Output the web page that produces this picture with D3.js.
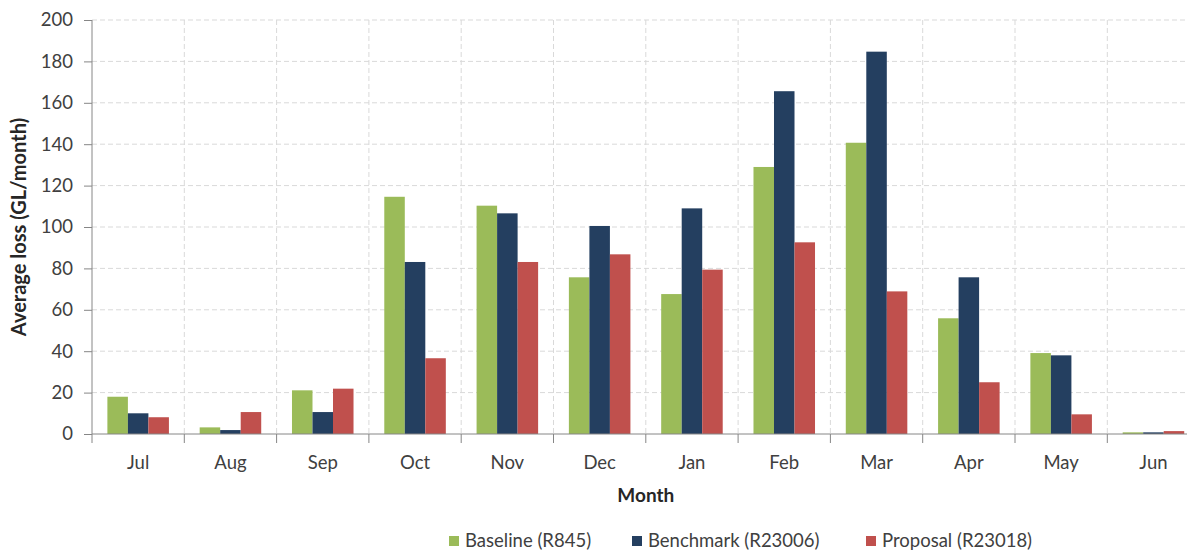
<!DOCTYPE html>
<html>
<head>
<meta charset="utf-8">
<script src="https://cdn.jsdelivr.net/npm/d3@7"></script>
<style>
  body { margin: 0; background: #fff; }
  svg { display: block; font-family: Lato, "Open Sans", sans-serif; }
</style>
</head>
<body>
<svg width="1187" height="551"></svg>
<script>
var months = ['Jul', 'Aug', 'Sep', 'Oct', 'Nov', 'Dec', 'Jan', 'Feb', 'Mar', 'Apr', 'May', 'Jun'];
var seriesNames = ['Baseline (R845)', 'Benchmark (R23006)', 'Proposal (R23018)'];
var baseline = [18.0, 3.2, 21.1, 114.6, 110.3, 75.7, 67.6, 129.0, 140.7, 55.9, 39.1, 0.8];
var benchmark = [10.0, 1.9, 10.6, 83.1, 106.6, 100.5, 109.0, 165.6, 184.7, 75.7, 38.0, 0.8];
var proposal = [8.1, 10.6, 21.9, 36.6, 83.1, 86.8, 79.4, 92.6, 68.9, 25.0, 9.5, 1.4];
var yTicks = [0, 20, 40, 60, 80, 100, 120, 140, 160, 180, 200];
var colors = ['#9bbb59', '#243f60', '#c0504d'];

var svg = d3.select('svg');
var plotLeft = 92, plotTop = 20, plotBottom = 434;
var catW = 92.3;

var x0 = d3.scaleBand().domain(months).range([plotLeft, plotLeft + catW * months.length]);
var x1 = d3.scaleBand().domain(seriesNames).range([0, x0.bandwidth()]).paddingOuter(0.75);
var y = d3.scaleLinear().domain([0, 200]).range([plotBottom, plotTop]);

// grid
svg.append('g').selectAll('line')
  .data(yTicks.slice(1))
  .enter().append('line')
  .attr('x1', plotLeft).attr('x2', 1187)
  .attr('y1', function(d){ return y(d); })
  .attr('y2', function(d){ return y(d); })
  .attr('stroke', '#d9d9d9').attr('stroke-dasharray', '5,3');

svg.append('g').selectAll('line')
  .data(d3.range(1, months.length + 1))
  .enter().append('line')
  .attr('x1', function(d){ return plotLeft + catW * d; })
  .attr('x2', function(d){ return plotLeft + catW * d; })
  .attr('y1', plotTop).attr('y2', plotBottom)
  .attr('stroke', '#d9d9d9').attr('stroke-dasharray', '5,3');

// bars
var table = months.map(function(m, i){
  return {month: m, values: [baseline[i], benchmark[i], proposal[i]]};
});

var groups = svg.append('g').selectAll('g')
  .data(table)
  .enter().append('g')
  .attr('transform', function(d){ return 'translate(' + x0(d.month) + ',0)'; });

groups.selectAll('rect')
  .data(function(d){ return d.values.map(function(v, j){ return {name: seriesNames[j], v: v, c: colors[j]}; }); })
  .enter().append('rect')
  .attr('x', function(d){ return x1(d.name); })
  .attr('width', x1.bandwidth())
  .attr('y', function(d){ return y(d.v); })
  .attr('height', function(d){ return plotBottom - y(d.v); })
  .attr('fill', function(d){ return d.c; });

// y axis
var yAxis = svg.append('g')
  .attr('transform', 'translate(' + plotLeft + ',0)')
  .call(d3.axisLeft(y).tickValues(yTicks).tickSize(8).tickPadding(11));
yAxis.attr('font-family', null).attr('font-size', null);
yAxis.select('.domain').attr('stroke', '#868686').attr('d', 'M0,' + plotTop + 'V' + plotBottom);
yAxis.selectAll('.tick line').attr('stroke', '#868686');
yAxis.selectAll('text').attr('font-size', '18.5px').attr('fill', '#404040');

// x axis
var xAxis = svg.append('g')
  .attr('transform', 'translate(0,' + plotBottom + ')')
  .call(d3.axisBottom(x0).tickSize(0).tickPadding(22));
xAxis.attr('font-family', null).attr('font-size', null);
xAxis.select('.domain').attr('stroke', '#868686').attr('d', 'M' + plotLeft + ',0H1187');
xAxis.selectAll('text').attr('font-size', '18.5px').attr('fill', '#404040');
xAxis.selectAll('line.sep')
  .data(d3.range(months.length + 1))
  .enter().append('line')
  .attr('x1', function(d){ return plotLeft + catW * d; })
  .attr('x2', function(d){ return plotLeft + catW * d; })
  .attr('y1', 0).attr('y2', 9)
  .attr('stroke', '#868686');

// axis titles
svg.append('text')
  .attr('x', plotLeft + catW * 6).attr('y', 502)
  .attr('text-anchor', 'middle')
  .attr('font-size', '19px').attr('font-weight', 'bold').attr('fill', '#262626')
  .text('Month');

svg.append('text')
  .attr('transform', 'translate(26,227) rotate(-90)')
  .attr('text-anchor', 'middle')
  .attr('font-size', '20px').attr('font-weight', 'bold').attr('fill', '#262626')
  .text('Average loss (GL/month)');

// legend
var legendX = [449, 632, 866];
var legend = svg.append('g').selectAll('g')
  .data(seriesNames)
  .enter().append('g')
  .attr('transform', function(d, i){ return 'translate(' + legendX[i] + ',536)'; });
legend.append('rect')
  .attr('width', 10).attr('height', 10)
  .attr('fill', function(d, i){ return colors[i]; });
legend.append('text')
  .attr('x', 16).attr('y', 11)
  .attr('font-size', '18.5px').attr('fill', '#404040')
  .text(function(d){ return d; });
</script>
</body>
</html>
